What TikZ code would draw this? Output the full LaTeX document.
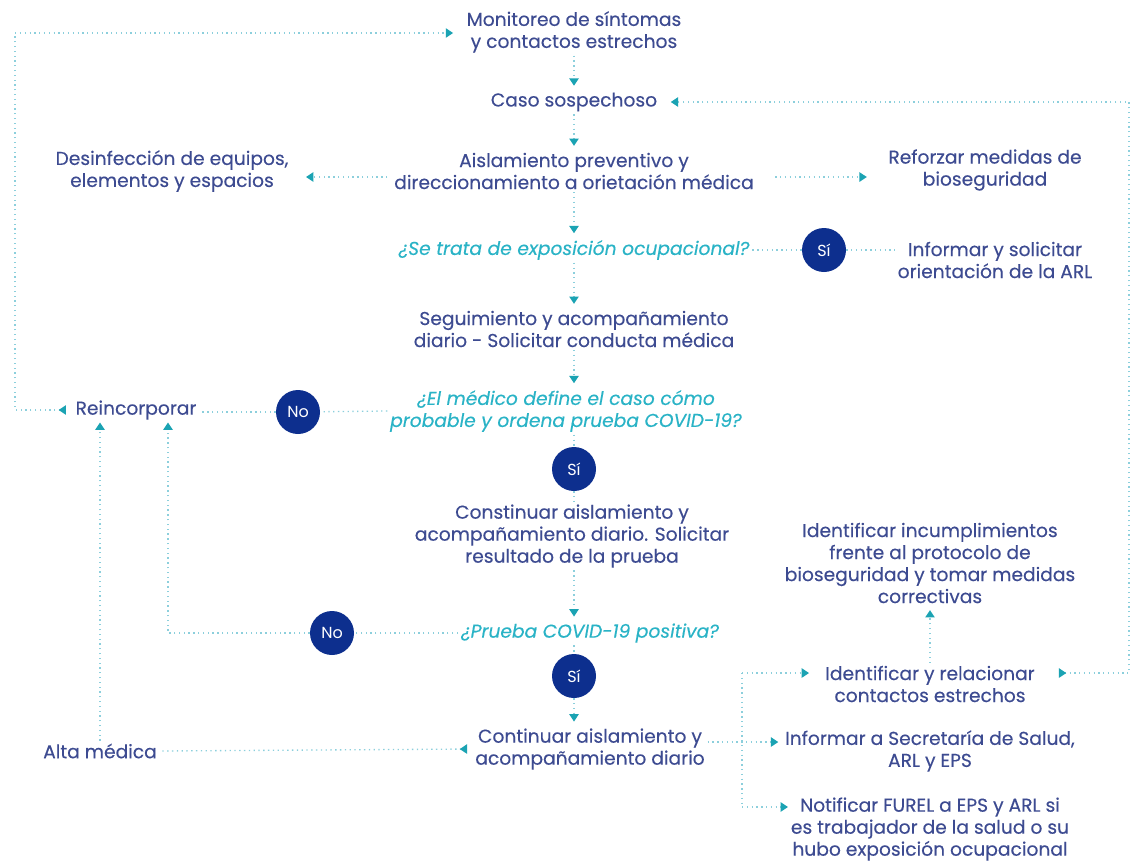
\documentclass[tikz,border=0pt]{standalone}
\usepackage{fontspec}
\setmainfont{Poppins}
\newfontfamily\bx{Poppins}[FakeBold=0.3]
\usetikzlibrary{arrows.meta,calc}
\definecolor{txt}{HTML}{3D4B91}
\definecolor{qst}{HTML}{2AB3C6}
\definecolor{circ}{HTML}{0D2F8E}
\definecolor{lin}{HTML}{8CCFDC}
\definecolor{arr}{HTML}{1BA3B3}
\tikzset{
  box/.style={align=center, text=txt, inner sep=2pt, font=\bx\fontsize{14}{16.5}\selectfont},
  quest/.style={align=center, text=qst, inner sep=2pt, font=\bx\fontsize{14}{16.5}\selectfont\itshape},
  dec/.style={circle, fill=circ, text=white, minimum size=33pt, inner sep=0pt, font=\fontsize{12}{14}\selectfont},
  conn/.style={draw=lin, line width=1pt, dash pattern=on 1pt off 2.6pt},
  tip/.style={-{Triangle[width=7pt,length=5.5pt,color=arr]}},
  rtip/.style={{Triangle[reversed,width=7pt,length=5.5pt,color=arr]}-},
  rtiptip/.style={{Triangle[reversed,width=7pt,length=5.5pt,color=arr]}-{Triangle[width=7pt,length=5.5pt,color=arr]}},
}
\begin{document}
\begin{tikzpicture}[x=0.75pt,y=-0.75pt]
\path[use as bounding box] (0,0) rectangle (1133,861);
% nodes
\node[box] (mon) at (574,32) {Monitoreo de síntomas\\y contactos estrechos};
\node[box] (caso) at (574,102) {Caso sospechoso};
\node[box] (aisl) at (574,171) {Aislamiento preventivo y\\direccionamiento a orietación médica};
\node[box] (desinf) at (172,171) {Desinfección de equipos,\\elementos y espacios};
\node[box] (ref) at (985,170) {Reforzar medidas de\\bioseguridad};
\node[quest] (q1) at (574,250) {¿Se trata de exposición ocupacional?};
\node[dec] (si1) at (824,250) {Sí};
\node[box] (infarl) at (995,260) {Informar y solicitar\\orientación de la ARL};
\node[box] (seg) at (574,329) {Seguimiento y acompañamiento\\diario - Solicitar conducta médica};
\node[quest] (q2) at (566,411) {¿El médico define el caso cómo\\probable y ordena prueba COVID-19?};
\node[dec] (no1) at (298,412) {No};
\node[box] (reinc) at (136,410) {Reincorporar};
\node[dec] (si2) at (574,469) {Sí};
\node[box] (cont1) at (572,536) {Constinuar aislamiento y\\acompañamiento diario. Solicitar\\resultado de la prueba};
\node[quest] (q3) at (590,633) {¿Prueba COVID-19 positiva?};
\node[dec] (no2) at (332,633) {No};
\node[dec] (si3) at (574,676) {Sí};
\node[box] (cont2) at (590,749) {Continuar aislamiento y\\acompañamiento diario};
\node[box] (alta) at (100,751) {Alta médica};
\node[box] (incump) at (930,563) {Identificar incumplimientos\\frente al protocolo de\\bioseguridad y tomar medidas\\correctivas};
\node[box] (idrel) at (930,684) {Identificar y relacionar\\contactos estrechos};
\node[box] (infsec) at (930,751) {Informar a Secretaría de Salud,\\ARL y EPS};
\node[box] (notif) at (930,829) {Notificar FUREL a EPS y ARL si\\es trabajador de la salud o su\\hubo exposición ocupacional};
% helper coordinates
\coordinate (lc) at (15,410);
\coordinate (rc) at (1129,673);
\coordinate (ja) at (742,673);
\coordinate (jm) at (742,742);
\coordinate (jb) at (742,807);
\coordinate (cx) at (574,0);
% main column
\draw[conn,tip,shorten >=3pt] (mon.south -| cx) -- (caso.north -| cx);
\draw[conn,tip,shorten >=3pt] (caso.south -| cx) -- (aisl.north -| cx);
\draw[conn,tip,shorten >=3pt] (aisl.south -| cx) -- (q1.north -| cx);
\draw[conn,tip,shorten >=3pt] (q1.south -| cx) -- (seg.north -| cx);
\draw[conn,tip,shorten >=3pt] (seg.south -| cx) -- (q2.north -| cx);
\draw[conn] (q2.south -| si2) -- (si2);
\draw[conn] (si2) -- (si2 |- cont1.north);
\draw[conn,tip,shorten >=3pt] (si2 |- cont1.south) -- (si2 |- q3.north);
\draw[conn] (si3 |- q3.south) -- (si3);
\draw[conn,tip,shorten >=3pt] (si3) -- (si3 |- cont2.north);
% side branches
\draw[conn,tip,shorten <=3pt,shorten >=11pt] (aisl.west |- 0,177) -- (desinf.east |- 0,177);
\draw[conn,tip,shorten <=14pt,shorten >=14pt] (aisl.east |- 0,177) -- (ref.west |- 0,177);
\draw[conn] (q1) -- (si1);
\draw[conn] (si1) -- (si1 -| infarl.west);
\draw[conn] (q2.west) -- (no1);
\draw[conn] (no1) -- (no1 -| reinc.east);
\draw[conn] (q3.west) -- (no2);
\draw[conn,tip] (no2) -| ([xshift=24pt]reinc.south);
\draw[conn,tip] (alta.north) -- (alta.north |- reinc.south);
\draw[conn,rtip,shorten <=4pt] (cont2.west) -- (alta.east);
% left loop
\draw[conn,rtiptip,shorten <=5pt,shorten >=8pt] (reinc.west) -- (lc) |- (mon.west |- 0,33);
% right loop
\draw[conn,rtiptip,shorten <=16pt,shorten >=8pt] (rc -| idrel.east) -- (rc) |- (caso.east);
% right lower cluster
\draw[conn] (ja) -- (jb);
\draw[conn,tip,shorten >=10pt] (ja) -- (ja -| idrel.west);
\draw[conn,tip,shorten >=3pt] (cont2.east |- jm) -- (jm -| infsec.west);
\draw[conn,tip] (jb) -- (jb -| notif.west);
\draw[conn,tip,shorten >=3pt] (incump.south |- idrel.north) -- (incump.south);
\end{tikzpicture}
\end{document}
